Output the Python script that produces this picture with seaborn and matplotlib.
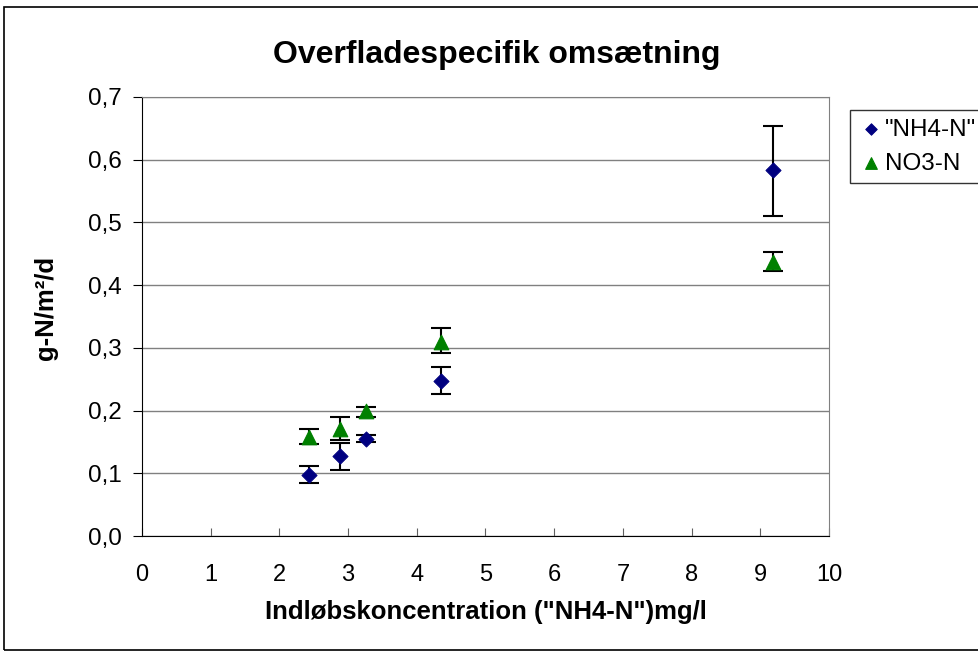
import matplotlib
matplotlib.use("Agg")
import matplotlib.pyplot as plt
import seaborn as sns
import pandas as pd
from matplotlib.patches import Rectangle

sns.set_style("white")
plt.rcParams['font.family'] = ['Liberation Sans', 'DejaVu Sans']
plt.rcParams['text.color'] = 'black'
plt.rcParams['axes.labelcolor'] = 'black'
plt.rcParams['xtick.color'] = 'black'
plt.rcParams['ytick.color'] = 'black'

# data
conc = [2.43, 2.88, 3.26, 4.35, 9.18]
nh4 = [0.097, 0.128, 0.155, 0.247, 0.583]
nh4_lo = [0.085, 0.105, 0.150, 0.227, 0.511]
nh4_hi = [0.112, 0.148, 0.161, 0.269, 0.654]
no3 = [0.158, 0.171, 0.199, 0.309, 0.437]
no3_lo = [0.146, 0.153, 0.190, 0.292, 0.423]
no3_hi = [0.171, 0.189, 0.205, 0.331, 0.453]

df = pd.DataFrame({'x': conc, 'nh4': nh4, 'no3': no3})

fig = plt.figure(figsize=(9.79, 6.56), dpi=100)
ax = fig.add_axes([142 / 979, 1 - 536 / 656, (829 - 142) / 979, (536 - 97) / 656])

# outer chart border
fig.patches.append(Rectangle((4 / 979, 6 / 656), 980 / 979, 643 / 656, transform=fig.transFigure,
                             fill=False, edgecolor='black', linewidth=1.2))

ax.set_xlim(0, 10)
ax.set_ylim(0, 0.7)
ax.set_yticks([i / 10 for i in range(8)])
ax.set_xticks(range(11))
ax.set_yticklabels([f"{i / 10:.1f}".replace('.', ',') for i in range(8)], fontsize=17.5)
ax.set_xticklabels([str(i) for i in range(11)], fontsize=17)
ax.yaxis.grid(True, color='#808080', linewidth=1)
ax.set_axisbelow(True)
for s in ['top', 'right']:
    ax.spines[s].set_color('#808080')
for s in ['left', 'bottom']:
    ax.spines[s].set_color('black')
ax.tick_params(axis='y', direction='out', length=6.5, color='black', left=True, pad=8)
ax.tick_params(axis='x', direction='in', length=6, color='#606060', bottom=True, pad=20)

# error bars
err_nh4 = [[v - l for v, l in zip(nh4, nh4_lo)], [h - v for v, h in zip(nh4, nh4_hi)]]
err_no3 = [[v - l for v, l in zip(no3, no3_lo)], [h - v for v, h in zip(no3, no3_hi)]]
ax.errorbar(conc, nh4, yerr=err_nh4, fmt='none', ecolor='black', elinewidth=1.5, capsize=7, capthick=1.5, zorder=3)
ax.errorbar(conc, no3, yerr=err_no3, fmt='none', ecolor='black', elinewidth=1.5, capsize=7, capthick=1.5, zorder=3)

sns.scatterplot(data=df, x='x', y='nh4', marker='D', color='#000080', s=60, edgecolor='#000080',
                label='"NH4-N"', ax=ax, zorder=4)
sns.scatterplot(data=df, x='x', y='no3', marker='^', color='#008000', s=110, edgecolor='#008000',
                label='NO3-N', ax=ax, zorder=4)

ax.set_xlabel('Indløbskoncentration ("NH4-N")mg/l', fontsize=18.5, fontweight='bold')
ax.xaxis.set_label_coords(0.5, (536 - 600) / 439)
ax.set_ylabel('g-N/m²/d', fontsize=18.5, fontweight='bold')
ax.yaxis.set_label_coords((58 - 142) / 687, 0.52)
fig.text(497 / 979, 1 - 55 / 656, 'Overfladespecifik omsætning', ha='center', va='center',
         fontsize=23, fontweight='bold')

leg = ax.legend(loc='upper left', bbox_to_anchor=(850 / 979, 1 - 110 / 656), bbox_transform=fig.transFigure,
                frameon=True, fancybox=False, fontsize=17.5, handletextpad=0.1, borderpad=0.35,
                labelspacing=0.5, handlelength=1.0, borderaxespad=0)
leg.get_frame().set_edgecolor('black')
leg.get_frame().set_linewidth(1)
leg.legend_handles[0].set_sizes([35])
leg.legend_handles[1].set_sizes([70])

fig.savefig('out.png', dpi=100)
